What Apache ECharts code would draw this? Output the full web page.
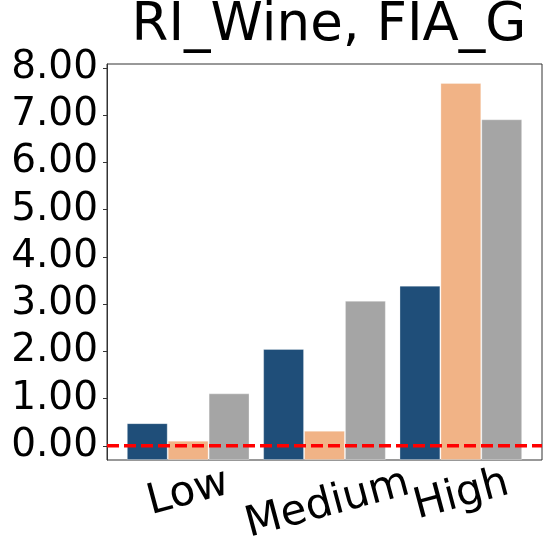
<!DOCTYPE html>
<html>
<head>
    <meta charset="utf-8">
    <script src="https://cdn.jsdelivr.net/npm/echarts@6/dist/echarts.min.js"></script>
</head>
<body style="margin:0">
<div id="main" style="width: 548px;height:548px;"></div>

<script type="text/javascript">
    // data
    var categories = ['Low', 'Medium', 'High'];
    var blueVals = [0.48, 2.05, 3.39];
    var peachVals = [0.11, 0.32, 7.68];
    var grayVals = [1.11, 3.07, 6.91];
    var yTicks = [0, 1, 2, 3, 4, 5, 6, 7, 8];
    var refLine = [[0, 0], [1, 0]];

    var font = 'DejaVu Sans';
    var yMin = -0.3, yMax = 8.08;

    var dom = document.getElementById('main');
    var myChart = echarts.init(dom);

    function barSeries(name, vals, color) {
        return {
            name: name,
            type: 'bar',
            xAxisIndex: 1,
            yAxisIndex: 1,
            data: vals,
            barGap: '0%',
            barCategoryGap: '10%',
            itemStyle: {
                color: color,
                borderColor: 'rgba(255,255,255,0.3)',
                borderWidth: 1
            },
            z: 2
        };
    }

    // matplotlib puts the top of the rotated box at the tick, so long labels sit lower
    function xLabelStyle(padTop) {
        return { fontFamily: font, fontSize: 42, color: '#000', padding: [padTop, 0, 0, 0] };
    }

    var option = {
        animation: false,
        title: {
            text: 'RI_Wine, FIA_G',
            left: 324,
            textAlign: 'center',
            top: -5,
            textStyle: { fontFamily: font, fontSize: 53, fontWeight: 'normal', color: '#000' }
        },
        grid: [
            // full frame of the plot
            { left: 107, right: 6, top: 64, bottom: 88, show: true, borderColor: '#333', borderWidth: 1, backgroundColor: 'transparent' },
            // inner area for bars (matplotlib margins)
            { left: 120, right: 19, top: 64, bottom: 88 }
        ],
        xAxis: [
            { type: 'value', gridIndex: 0, min: 0, max: 1, show: false },
            {
                type: 'category', gridIndex: 1, data: categories,
                axisLine: { show: false },
                axisTick: { show: true, alignWithLabel: true, length: 4, lineStyle: { color: '#333' } },
                axisLabel: {
                    interval: 0, hideOverlap: false,
                    rotate: 15, align: 'center', margin: 33,
                    fontFamily: font, fontSize: 42, color: '#000',
                    formatter: function (v) { return '{' + v + '|' + v + '}'; },
                    rich: {
                        Low: xLabelStyle(0),
                        Medium: xLabelStyle(24),
                        High: xLabelStyle(5)
                    }
                }
            }
        ],
        yAxis: [
            {
                type: 'value', gridIndex: 0, min: yMin, max: yMax,
                splitLine: { show: false },
                axisLine: { show: true, lineStyle: { color: '#333' } },
                axisTick: { show: true, length: 4, customValues: yTicks, lineStyle: { color: '#333' } },
                axisLabel: {
                    customValues: yTicks, margin: 9,
                    fontFamily: font, fontSize: 39, color: '#000',
                    formatter: function (v) { return v.toFixed(2); }
                }
            },
            {
                type: 'value', gridIndex: 1, min: yMin, max: yMax, startValue: yMin,
                show: false, splitLine: { show: false }
            }
        ],
        series: [
            barSeries('blue', blueVals, '#1f4e79'),
            barSeries('peach', peachVals, '#f1b386'),
            barSeries('gray', grayVals, '#a5a5a5'),
            {
                type: 'line',
                xAxisIndex: 0,
                yAxisIndex: 0,
                data: refLine,
                symbol: 'none',
                lineStyle: { color: '#ff0000', width: 3.5, type: [12, 5] },
                z: 10
            }
        ]
    };

    if (option && typeof option === "object") {
        myChart.setOption(option, true);
    }
</script>
</body>
</html>
